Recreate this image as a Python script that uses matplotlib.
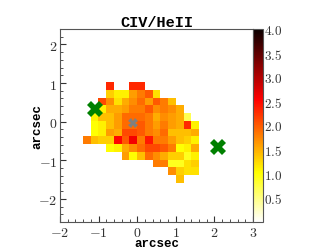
import numpy as np
import matplotlib
matplotlib.use("Agg")
import matplotlib.pyplot as plt
from matplotlib.ticker import MultipleLocator, FuncFormatter

plt.rcParams['mathtext.fontset'] = 'cm'

n = np.nan
# CIV/HeII ratio map, 0.2" pixels, rows from top (y=0.9) to bottom (y=-1.5)
ratio = [
    [n, n, n, 2.3, n, n, 2.3, 2.3, n, n, n, n, n, n, n],
    [n, n, n, 1.3, 1.1, 1.1, 1.6, 1.8, 2.0, 1.2, n, n, n, n, n],
    [n, n, 2.1, 1.7, 1.2, 1.5, 1.7, 1.9, 1.6, 2.0, 1.8, 1.4, n, n, n],
    [n, 1.1, 1.1, 1.5, 1.5, 1.6, 1.8, 1.8, 2.0, 1.7, 1.8, 1.7, 1.5, n, n],
    [n, 1.1, 1.4, 1.4, 1.6, 1.9, 1.9, 1.9, 1.8, 1.5, 1.7, 1.6, 1.5, 0.7, n],
    [n, 1.0, 1.1, 1.4, 1.6, 1.9, 1.9, 2.0, 1.8, 1.6, 1.8, 1.6, 1.5, 2.3, 1.1],
    [n, 1.0, 1.1, 1.6, 1.5, 2.1, 2.1, 2.0, 1.8, 1.7, 1.9, 1.4, 1.4, 1.4, 1.5],
    [1.8, 1.4, 1.3, 1.3, 2.5, 2.0, 2.6, 1.8, 2.4, 1.8, 1.8, 1.6, 1.4, 1.3, 1.1],
    [n, n, n, 1.0, 1.1, 1.5, 1.7, 1.9, 2.1, 2.1, 2.0, 1.8, 1.0, 1.1, 1.5],
    [n, n, n, n, n, 1.6, 1.0, 1.4, 1.9, 1.7, 1.5, 1.3, 1.3, 0.9, 1.1],
    [n, n, n, n, n, n, n, n, n, 1.8, 1.8, 0.9, 0.9, 1.2, 1.3],
    [n, n, n, n, n, n, n, n, n, n, n, 1.7, 1.3, 1.2, 1.2],
    [n, n, n, n, n, n, n, n, n, n, n, n, 1.4, n, n],
]
map_extent = [-1.4, 1.6, -1.6, 1.0]

# source positions (arcsec)
green_x = [-1.1, 2.09]
green_y = [0.32, -0.66]
center_x = [-0.1]
center_y = [-0.04]

cbar_ticks = [0.5, 1.0, 1.5, 2.0, 2.5, 3.0, 3.5, 4.0]

fig = plt.figure(figsize=(3.16, 2.51), dpi=100)
ax = fig.add_axes([0.19, 0.1116, 0.6106, 0.7689])
cax = fig.add_axes([0.8006, 0.1116, 0.0317, 0.7689])

im = ax.imshow(np.array(ratio), cmap='hot_r', vmin=0, vmax=4, origin='upper',
               extent=map_extent, interpolation='nearest', aspect='auto')
ax.plot(green_x, green_y, ls='none', marker='X', color='green', ms=11, mew=0)
ax.plot(center_x, center_y, ls='none', marker='X', color='gray', ms=6.5, mew=0)

ax.set_xlim(-2, 3)
ax.set_ylim(-2.6, 2.4)
ax.xaxis.set_major_locator(MultipleLocator(1))
ax.yaxis.set_major_locator(MultipleLocator(1))
ax.xaxis.set_minor_locator(MultipleLocator(0.2))
ax.yaxis.set_minor_locator(MultipleLocator(0.2))
intfmt = FuncFormatter(lambda v, p: '$%d$' % round(v))
ax.xaxis.set_major_formatter(intfmt)
ax.yaxis.set_major_formatter(intfmt)
ax.tick_params(which='both', direction='in', top=False, right=False,
               labelsize=10, colors='#333333', pad=2)
ax.tick_params(which='major', length=4)
ax.tick_params(which='minor', length=2)
for s in ax.spines.values():
    s.set_color('#555555')

ax.set_xlabel('arcsec', family='Liberation Mono', weight='bold', fontsize=9, labelpad=-1)
ax.set_ylabel('arcsec', family='Liberation Mono', weight='bold', fontsize=9, labelpad=-4)
ax.set_title('CIV/HeII', family='Liberation Mono', weight='bold', fontsize=11, pad=0)

cb = fig.colorbar(im, cax=cax, ticks=cbar_ticks)
cb.ax.tick_params(length=0, labelsize=9.5, colors='#333333', pad=1)
cb.ax.yaxis.set_ticklabels(['$%.1f$' % t for t in cbar_ticks])
cb.outline.set_edgecolor('#555555')

fig.savefig('out.png', dpi=100)
